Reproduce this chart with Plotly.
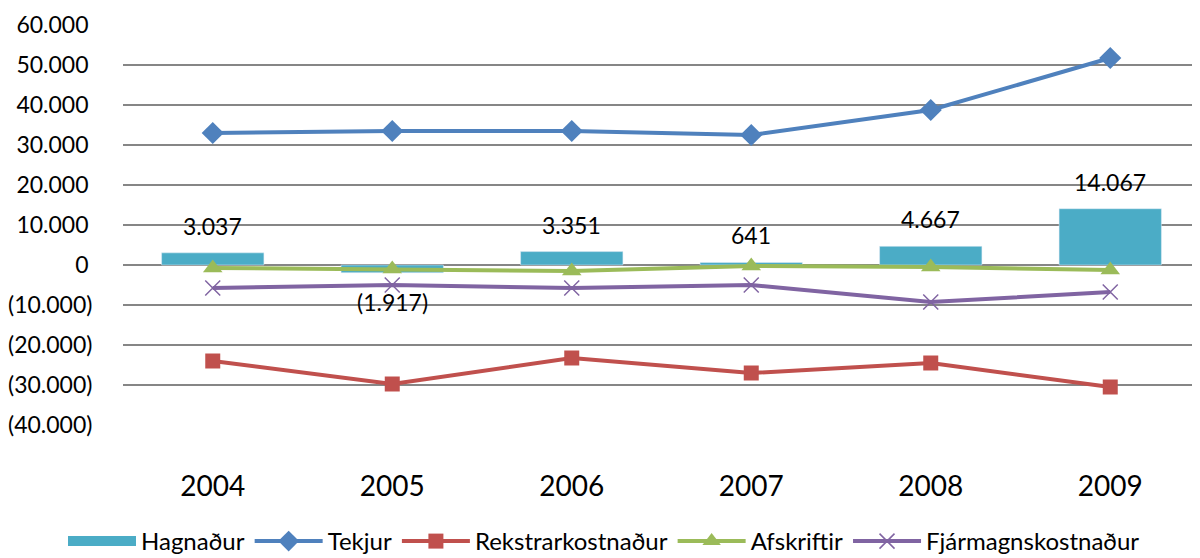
import plotly.graph_objects as go

years = ["2004", "2005", "2006", "2007", "2008", "2009"]
hagnadur = [3037, -1917, 3351, 641, 4667, 14067]
tekjur = [33000, 33500, 33500, 32500, 38750, 51750]
rekstrarkostnadur = [-24000, -29750, -23250, -27000, -24500, -30500]
afskriftir = [-750, -1000, -1500, -250, -500, -1250]
fjarmagnskostnadur = [-5750, -5000, -5750, -5000, -9250, -6750]

ytickvals = [60000, 50000, 40000, 30000, 20000, 10000, 0, -10000, -20000, -30000, -40000]
yticktext = ["60.000\u2006", "50.000\u2006", "40.000\u2006", "30.000\u2006", "20.000\u2006",
             "10.000\u2006", "0\u2006", "(10.000)", "(20.000)", "(30.000)", "(40.000)"]

def fmt(v):
    s = f"{abs(v):,}".replace(",", ".")
    return f"({s})" if v < 0 else s

FONT = "Lato, 'Open Sans', sans-serif"

fig = go.Figure()
fig.add_trace(go.Bar(x=years, y=hagnadur, name="Hagnaður", marker_color="#4BACC6",
                     width=0.57, showlegend=False, legendgroup="h"))
# legend proxy for the bar series (wide rectangle swatch)
fig.add_trace(go.Scatter(x=[None], y=[None], name="Hagnaður", mode="lines",
                         line=dict(color="#4BACC6", width=14), legendgroup="h"))
fig.add_trace(go.Scatter(x=years, y=tekjur, name="Tekjur", mode="lines+markers",
                         line=dict(color="#4F81BD", width=4),
                         marker=dict(symbol="diamond", size=17, color="#4F81BD")))
fig.add_trace(go.Scatter(x=years, y=rekstrarkostnadur, name="Rekstrarkostnaður", mode="lines+markers",
                         line=dict(color="#C0504D", width=4),
                         marker=dict(symbol="square", size=15, color="#C0504D")))
fig.add_trace(go.Scatter(x=years, y=afskriftir, name="Afskriftir", mode="lines+markers",
                         line=dict(color="#9BBB59", width=4),
                         marker=dict(symbol="triangle-up", size=17, color="#9BBB59")))
fig.add_trace(go.Scatter(x=years, y=fjarmagnskostnadur, name="Fjármagnskostnaður", mode="lines+markers",
                         line=dict(color="#8064A2", width=4),
                         marker=dict(symbol="x-thin-open", size=15, color="#8064A2",
                                     line=dict(color="#8064A2", width=1.5))))

for i, v in enumerate(hagnadur):
    fig.add_annotation(x=i, y=v, xref="x", yref="y", text=fmt(v), showarrow=False,
                       yshift=27 if v >= 0 else -29,
                       font=dict(size=23, color="#000000", family=FONT))

# page body adds an 8px offset, so the figure is sized to fit the 1200x558 window
fig.update_layout(
    width=1192, height=550,
    margin=dict(l=115, r=0, t=17, b=133, autoexpand=False),
    paper_bgcolor="white", plot_bgcolor="white",
    font=dict(family=FONT, color="#000000"),
    showlegend=True,
    legend=dict(orientation="h", xref="container", x=0.5, xanchor="center",
                yref="container", y=0.03, yanchor="middle",
                font=dict(size=24), traceorder="normal", itemwidth=68),
)
fig.update_xaxes(type="category", range=[-0.5, 5.5], showgrid=False, showline=False, zeroline=False,
                 automargin=False,
                 ticks="outside", ticklen=36, tickcolor="rgba(0,0,0,0)",
                 tickfont=dict(size=28, family=FONT))
fig.update_yaxes(range=[-40000, 60000], tickvals=ytickvals, ticktext=yticktext,
                 automargin=False,
                 showgrid=True, gridcolor="#868686", gridwidth=1.5,
                 zeroline=True, zerolinecolor="#868686", zerolinewidth=1.5,
                 showline=False, ticks="outside", ticklen=25, tickcolor="rgba(0,0,0,0)",
                 tickfont=dict(size=23, family=FONT))

fig.write_html("out.html")
